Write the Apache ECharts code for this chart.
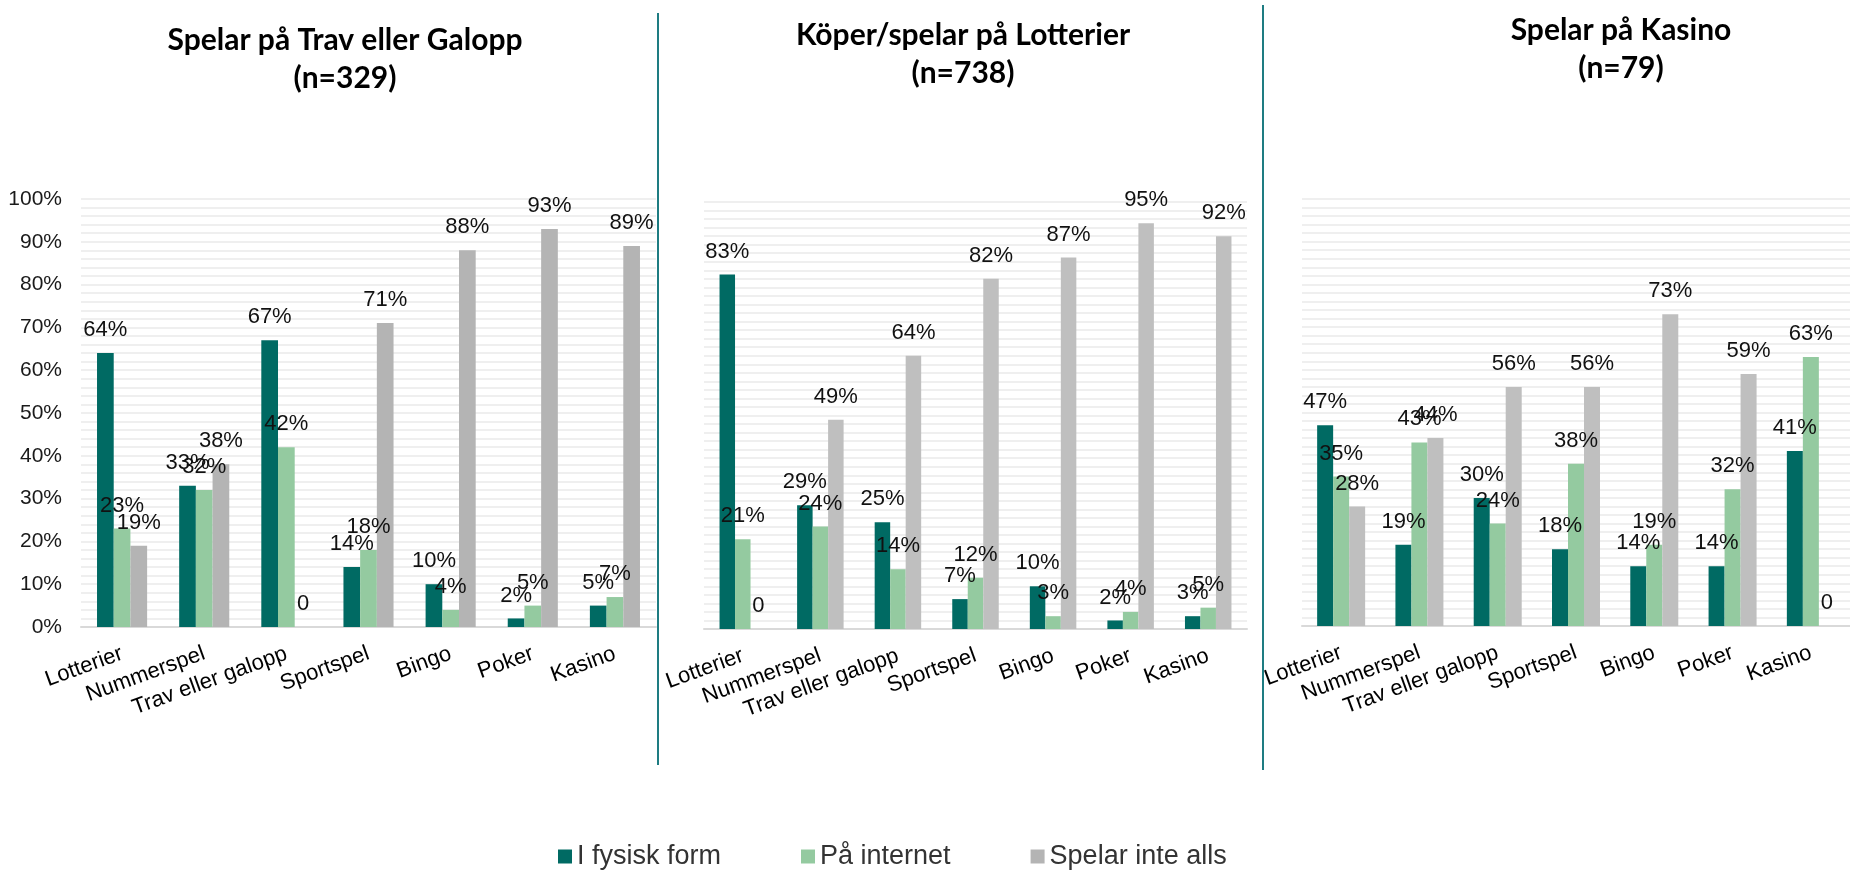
<!DOCTYPE html>
<html>
<head>
<meta charset="utf-8">
<script src="https://cdn.jsdelivr.net/npm/echarts@6/dist/echarts.min.js"></script>
<style>
  html, body { margin: 0; padding: 0; background: #fff; }
  #chart { width: 1850px; height: 870px; }
</style>
</head>
<body>
<div id="chart"></div>
<script>
const categories = ['Lotterier', 'Nummerspel', 'Trav eller galopp', 'Sportspel', 'Bingo', 'Poker', 'Kasino'];
const seriesNames = ['I fysisk form', 'På internet', 'Spelar inte alls'];

// Spelar på Trav eller Galopp (n=329)
const travFysisk = [64, 33, 67, 14, 10, 2, 5];
const travInternet = [23, 32, 42, 18, 4, 5, 7];
const travInteAlls = [19, 38, 0, 71, 88, 93, 89];

// Köper/spelar på Lotterier (n=738)
const lottFysisk = [83, 29, 25, 7, 10, 2, 3];
const lottInternet = [21, 24, 14, 12, 3, 4, 5];
const lottInteAlls = [0, 49, 64, 82, 87, 95, 92];

// Spelar på Kasino (n=79)
const kasFysisk = [47, 19, 30, 18, 14, 14, 41];
const kasInternet = [35, 43, 24, 38, 19, 32, 63];
const kasInteAlls = [28, 44, 56, 56, 73, 59, 0];

const titleTexts = ['Spelar på Trav eller Galopp\n(n=329)', 'Köper/spelar på Lotterier\n(n=738)', 'Spelar på Kasino\n(n=79)'];

const panels = [
  { data: [travFysisk, travInternet, travInteAlls], grid: { left: 81, top: 199, width: 575, height: 428 }, barWidth: 16.7, gray: '#b4b4b4', yLabels: true },
  { data: [lottFysisk, lottInternet, lottInteAlls], grid: { left: 704, top: 202, width: 543, height: 427 }, barWidth: 15.5, gray: '#bfbfbf', yLabels: false },
  { data: [kasFysisk, kasInternet, kasInteAlls], grid: { left: 1302, top: 199, width: 560, height: 427 }, barWidth: 16, gray: '#bfbfbf', yLabels: false }
];

const font = 'Liberation Sans, Arial, sans-serif';
const gridColor = '#efefef';

const grids = [], xAxes = [], yAxes = [], series = [];
panels.forEach((p, i) => {
  grids.push(p.grid);
  xAxes.push({
    type: 'category',
    gridIndex: i,
    data: categories,
    axisTick: { show: false },
    axisLine: { lineStyle: { color: '#d9d9d9', width: 2 } },
    axisLabel: { interval: 0, rotate: 20, margin: 26, fontSize: 22, color: '#000', fontFamily: font }
  });
  yAxes.push({
    type: 'value',
    gridIndex: i,
    min: 0,
    max: 100,
    interval: 10,
    axisLine: { show: false },
    axisTick: { show: false },
    axisLabel: { show: p.yLabels, formatter: '{value}%', fontSize: 21, margin: 19, color: '#1a1a1a', fontFamily: font },
    splitLine: { lineStyle: { color: gridColor, width: 2 } },
    minorTick: { show: false, splitNumber: 5 },
    minorSplitLine: { show: true, lineStyle: { color: gridColor, width: 2 } }
  });
  const colors = ['#006a63', '#94caa0', p.gray];
  p.data.forEach((vals, k) => {
    series.push({
      type: 'bar',
      name: seriesNames[k],
      xAxisIndex: i,
      yAxisIndex: i,
      data: vals,
      barWidth: p.barWidth,
      barGap: '0%',
      itemStyle: { color: colors[k] },
      label: {
        show: true,
        position: 'top',
        distance: 12,
        fontSize: 22,
        color: '#111',
        fontFamily: font,
        formatter: (d) => (d.value === 0 ? '0' : d.value + '%')
      }
    });
  });
});

const titleStyle = { fontFamily: 'Lato, Open Sans, sans-serif', fontWeight: 'bold', fontSize: 30, lineHeight: 38, color: '#000' };

const chart = echarts.init(document.getElementById('chart'));
chart.setOption({
  animation: false,
  backgroundColor: '#fff',
  title: [
    { text: titleTexts[0], left: 340, top: 16, textAlign: 'center', textStyle: titleStyle },
    { text: titleTexts[1], left: 958, top: 11, textAlign: 'center', textStyle: titleStyle },
    { text: titleTexts[2], left: 1616, top: 6, textAlign: 'center', textStyle: titleStyle }
  ],
  legend: {
    data: seriesNames,
    left: 553,
    top: 838,
    icon: 'rect',
    itemWidth: 14,
    itemHeight: 14,
    itemGap: 80,
    textStyle: { fontFamily: font, fontSize: 27, color: '#333' }
  },
  grid: grids,
  xAxis: xAxes,
  yAxis: yAxes,
  series: series,
  graphic: [
    { type: 'line', shape: { x1: 658, y1: 13, x2: 658, y2: 765 }, style: { stroke: '#1e7c82', lineWidth: 2 } },
    { type: 'line', shape: { x1: 1263, y1: 5, x2: 1263, y2: 770 }, style: { stroke: '#1e7c82', lineWidth: 2 } }
  ]
});
</script>
</body>
</html>
